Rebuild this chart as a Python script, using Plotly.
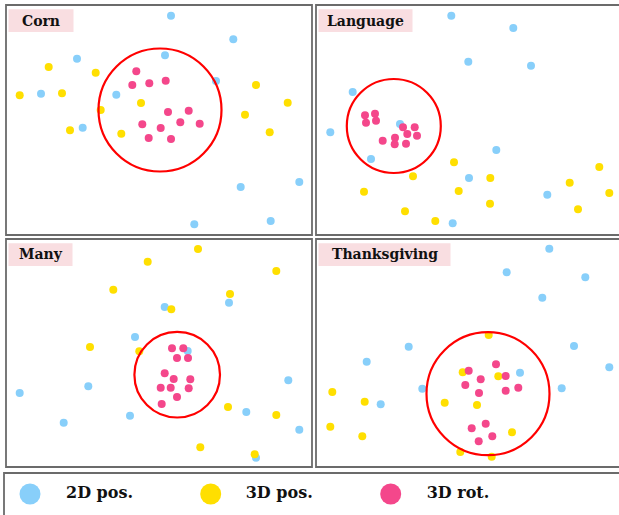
import plotly.graph_objects as go

FIG_W, FIG_H = 619, 515

# ---------------- data (local pixel-like units within each panel; y measured from panel top) ----
panel_names = ["Corn", "Language", "Many", "Thanksgiving"]
series_names = ["2D pos.", "3D pos.", "3D rot."]

corn_2d_x = [165, 227.3, 71, 159, 210, 35, 110.3, 76.7, 234.7, 293.3, 188.3, 264.7]
corn_2d_y = [10.7, 34.3, 53.7, 50.3, 76, 88.7, 89.7, 122.7, 182, 177, 219.3, 216]
corn_3dp_x = [42.7, 89.7, 13.7, 56, 94.7, 135, 64, 115.3, 250, 281.7, 239, 263.7]
corn_3dp_y = [62, 67.7, 90.3, 88.3, 105, 98, 125.3, 128.7, 80, 97.7, 109.7, 127.3]
corn_3dr_x = [130.3, 126.3, 143.3, 159.7, 162, 182.7, 136.3, 174.3, 193.7, 154.7, 142.7, 165]
corn_3dr_y = [66.3, 80, 78.3, 75.7, 107, 105.7, 119.3, 117.3, 118.7, 123, 133, 134]

lang_2d_x = [135.3, 197.3, 152.3, 215, 36.7, 14.3, 84, 55, 180.3, 153, 231.3, 136.7]
lang_2d_y = [10.7, 23, 56.7, 60.7, 87, 127.3, 119, 154, 145, 173, 189.7, 218.3]
lang_3dp_x = [138, 97, 174.3, 48, 142.7, 283.3, 253.7, 293.3, 174, 89, 262, 119.3]
lang_3dp_y = [157.3, 171.3, 173, 186.7, 186, 162, 177.7, 188, 198.7, 206.3, 204.3, 216]
lang_3dr_x = [49, 59, 50, 60, 87, 98.7, 91.3, 101, 66.7, 79, 78.7, 90]
lang_3dr_y = [110.3, 108.7, 117.7, 115.7, 122.3, 122.3, 129, 130.7, 135.7, 132.7, 139.3, 138.7]

many_2d_x = [158.7, 223, 129, 181.7, 82.3, 13.7, 282.3, 57.7, 124, 240.3, 293.3, 250]
many_2d_y = [68, 63.7, 98, 112, 147.3, 154, 141.3, 183.7, 176.7, 173, 190.7, 218.7]
many_3dp_x = [192, 141.7, 270.3, 107.3, 224, 165.3, 84, 133.3, 222, 270.3, 194.3, 248.7]
many_3dp_y = [10, 22.7, 32, 50.7, 55, 70.3, 108, 112.3, 168, 176, 208.3, 215.3]
many_3dr_x = [166, 177.3, 171, 182, 158.7, 167.7, 184.3, 154.7, 164.7, 182.7, 171, 155.7]
many_3dr_y = [109.3, 109.3, 119, 119, 134.3, 140, 140.3, 148.7, 148.7, 149.3, 158, 165]

thx_2d_x = [233.3, 190.7, 269.3, 226.3, 92.7, 258, 50.7, 293.3, 204, 106.3, 245.7, 64.7]
thx_2d_y = [9.7, 33.3, 38.3, 58.7, 107.7, 107, 122.7, 128.3, 133.7, 149.7, 149.3, 165.3]
thx_3dp_x = [172.7, 146.7, 182.3, 16.3, 48.7, 128.7, 161, 14.3, 46.3, 196, 144.3, 175.7]
thx_3dp_y = [96, 133.3, 137.3, 153, 162.7, 163.7, 166, 187.7, 197.3, 193.3, 213, 217.7]
thx_3dr_x = [180, 152.7, 189.7, 164.7, 149.3, 202.3, 163, 189.7, 169.7, 155.7, 176.3, 162.7]
thx_3dr_y = [125.3, 131.7, 137, 140.3, 146, 148.7, 154, 151.7, 184.7, 189.3, 197.3, 202.3]

# highlight circles: centre x, centre y, radius (panel units)
circle_cx = [154, 77.8, 171.2, 172]
circle_cy = [105, 121, 135.7, 154.7]
circle_r = [61.5, 47, 42.8, 61.5]

panel_data = [
    (corn_2d_x, corn_2d_y, corn_3dp_x, corn_3dp_y, corn_3dr_x, corn_3dr_y),
    (lang_2d_x, lang_2d_y, lang_3dp_x, lang_3dp_y, lang_3dr_x, lang_3dr_y),
    (many_2d_x, many_2d_y, many_3dp_x, many_3dp_y, many_3dr_x, many_3dr_y),
    (thx_2d_x, thx_2d_y, thx_3dp_x, thx_3dp_y, thx_3dr_x, thx_3dr_y),
]

# ---------------- styling ----------------
COLORS = ["#88CFFA", "#FFDF00", "#F4478B"]
BORDER = "#6b6b6b"
LABEL_BG = "#F9DEE1"
FONT = "DejaVu Serif"

# panel boxes in pixels: left, top, right, bottom (right panels run past the page edge)
panels_px = [(6, 5, 312, 235), (316, 5, 640, 235), (6, 239, 312, 467), (316, 239, 640, 467)]
label_box_w = [65, 94, 64, 132]


def px(x):
    return x / FIG_W


def py(y):
    return 1 - y / FIG_H


fig = go.Figure()
shapes = []
annotations = []

for i, (l, t, r, b) in enumerate(panels_px):
    xa = "x" if i == 0 else f"x{i+1}"
    ya = "y" if i == 0 else f"y{i+1}"
    xkey = "xaxis" if i == 0 else f"xaxis{i+1}"
    ykey = "yaxis" if i == 0 else f"yaxis{i+1}"
    rr = min(r, FIG_W)
    w, h = rr - l, b - t
    fig.update_layout({
        xkey: dict(domain=[px(l), px(rr)], range=[0, w], visible=False, fixedrange=True, anchor=ya),
        ykey: dict(domain=[py(b), py(t)], range=[h, 0], visible=False, fixedrange=True, anchor=xa),
    })
    d = panel_data[i]
    for s in range(3):
        fig.add_trace(go.Scatter(
            x=d[2 * s], y=d[2 * s + 1], mode="markers", xaxis=xa, yaxis=ya,
            marker=dict(size=8, color=COLORS[s], line=dict(width=0)),
            showlegend=False, hoverinfo="skip"))
    # panel border
    shapes.append(dict(type="rect", xref="paper", yref="paper",
                       x0=px(l), x1=px(r), y0=py(b), y1=py(t),
                       line=dict(color=BORDER, width=1.8), layer="above"))
    # highlight circle
    shapes.append(dict(type="circle", xref=xa, yref=ya,
                       x0=circle_cx[i] - circle_r[i], x1=circle_cx[i] + circle_r[i],
                       y0=circle_cy[i] - circle_r[i], y1=circle_cy[i] + circle_r[i],
                       line=dict(color="#FF0000", width=2.2), layer="above"))
    # label box
    shapes.append(dict(type="rect", xref="paper", yref="paper",
                       x0=px(l + 2.5), x1=px(l + 2.5 + label_box_w[i]),
                       y0=py(t + 27), y1=py(t + 4.3),
                       fillcolor=LABEL_BG, line=dict(width=0), layer="below"))
    annotations.append(dict(text=f"<b>{panel_names[i]}</b>", xref="paper", yref="paper",
                            x=px(l + 2.5 + label_box_w[i] / 2), y=py(t + 15.5),
                            xanchor="center", yanchor="middle", showarrow=False,
                            font=dict(family=FONT, size=14, color="#111111")))

# legend panel
leg_l, leg_t, leg_r, leg_b = 4, 473, 640, 530
shapes.append(dict(type="rect", xref="paper", yref="paper",
                   x0=px(leg_l), x1=px(leg_r), y0=py(leg_b), y1=py(leg_t),
                   line=dict(color=BORDER, width=1.8), layer="above"))
fig.update_layout(
    xaxis5=dict(domain=[px(leg_l), px(FIG_W)], range=[0, FIG_W - leg_l], visible=False, fixedrange=True, anchor="y5"),
    yaxis5=dict(domain=[0, py(leg_t)], range=[FIG_H - leg_t, 0], visible=False, fixedrange=True, anchor="x5"),
)
legend_marker_x = [26, 206.7, 386.7]
legend_text_x = [62, 241.7, 422.7]
legend_y = [21, 21, 21]
fig.add_trace(go.Scatter(x=legend_marker_x, y=legend_y, mode="markers", xaxis="x5", yaxis="y5",
                         marker=dict(size=21, color=COLORS, line=dict(width=0)),
                         showlegend=False, hoverinfo="skip"))
fig.add_trace(go.Scatter(x=legend_text_x, y=legend_y, mode="text", xaxis="x5", yaxis="y5",
                         text=[f"<b>{s}</b>" for s in series_names], textposition="middle right",
                         textfont=dict(family=FONT, size=16, color="#111111"),
                         showlegend=False, hoverinfo="skip"))

fig.update_layout(
    width=FIG_W, height=FIG_H, margin=dict(l=0, r=0, t=0, b=0),
    paper_bgcolor="white", plot_bgcolor="white",
    shapes=shapes, annotations=annotations, showlegend=False,
)

fig.write_html("out.html", config={"displayModeBar": False},
               post_script="document.body.style.margin='0';document.body.style.overflow='hidden';")
